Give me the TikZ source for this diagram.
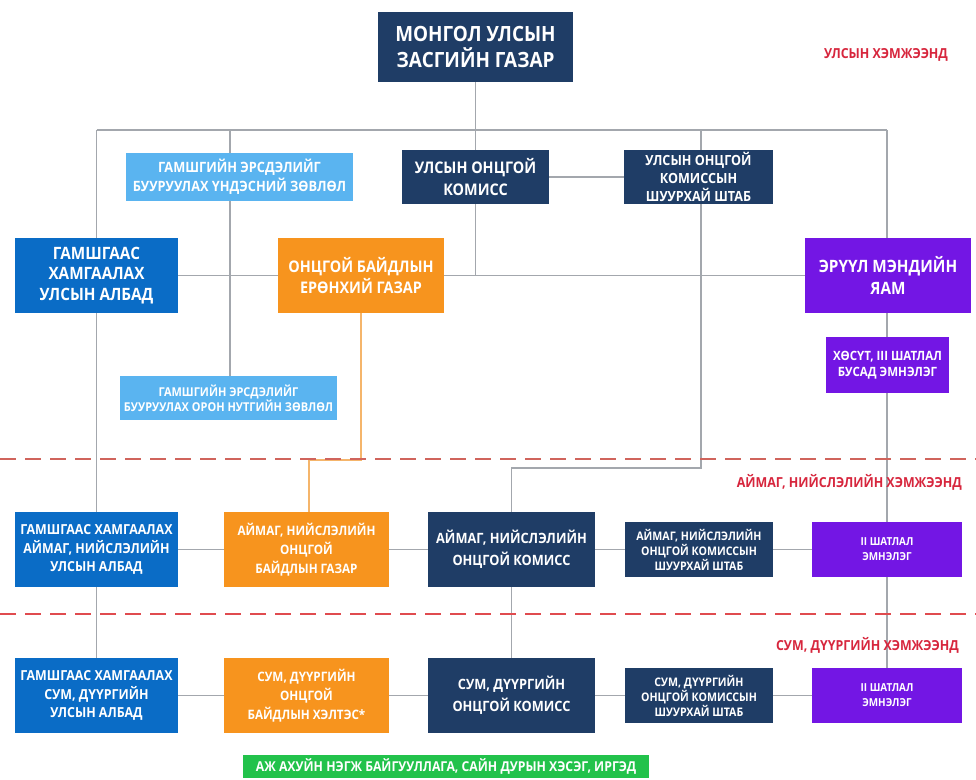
\documentclass[tikz,border=0pt]{standalone}
\usepackage{fontspec}
\newfontfamily\cond[FakeStretch=0.9]{Open Sans}
\usetikzlibrary{backgrounds}
\definecolor{navy}{HTML}{1F3D66}
\definecolor{mblue}{HTML}{0A6CC6}
\definecolor{lblue}{HTML}{5AB4F0}
\definecolor{orng}{HTML}{F7941E}
\definecolor{purp}{HTML}{7316E4}
\definecolor{grn}{HTML}{22C24B}
\definecolor{lgray}{HTML}{A3A7AD}
\definecolor{lorng}{HTML}{F5B56B}
\definecolor{redlbl}{HTML}{D7263D}
\definecolor{dash1}{HTML}{D0645C}
\definecolor{dash2}{HTML}{E04B4F}
\newcommand{\fs}[2]{\fontsize{#1}{#2}\selectfont}
\begin{document}
\begin{tikzpicture}[x=1pt,y=-1pt,
  orgbox/.style={inner sep=0pt, align=center, text=white, font=\cond\bfseries},
  conn/.style={draw=lgray, line width=1.3pt},
  lvl/.style={draw=#1, line width=2.6pt, dash pattern=on 16pt off 9pt},
  lbl/.style={text=redlbl, font=\cond\bfseries\fs{13.8}{16}, inner sep=0pt}]
\useasboundingbox (0,0) rectangle (976,779);
% national level
\node[orgbox, fill=navy, minimum width=195pt, minimum height=70pt, font=\cond\bfseries\fs{21}{26}] (top) at (475.5,47) {МОНГОЛ УЛСЫН\\ЗАСГИЙН ГАЗАР};
\node[lbl] (l1) at (886,55) {УЛСЫН ХЭМЖЭЭНД};
\node[orgbox, fill=lblue, minimum width=227pt, minimum height=48pt, font=\cond\bfseries\fs{14.2}{19}] (lb1) at (239.5,177) {ГАМШГИЙН ЭРСДЭЛИЙГ\\БУУРУУЛАХ ҮНДЭСНИЙ ЗӨВЛӨЛ};
\node[orgbox, fill=navy, minimum width=147pt, minimum height=54pt, font=\cond\bfseries\fs{16}{22}] (uok) at (475.5,177) {УЛСЫН ОНЦГОЙ\\КОМИСС};
\node[orgbox, fill=navy, minimum width=149pt, minimum height=54pt, font=\cond\bfseries\fs{14}{18}] (sh1) at (698.5,177) {УЛСЫН ОНЦГОЙ\\КОМИССЫН\\ШУУРХАЙ ШТАБ};
\node[orgbox, fill=mblue, minimum width=163pt, minimum height=75pt, font=\cond\bfseries\fs{17}{20.5}] (gam1) at (96.5,275.5) {ГАМШГААС\\ХАМГААЛАХ\\УЛСЫН АЛБАД};
\node[orgbox, fill=orng, minimum width=166pt, minimum height=75pt, font=\cond\bfseries\fs{16}{21}] (or1) at (361,275.5) {ОНЦГОЙ БАЙДЛЫН\\ЕРӨНХИЙ ГАЗАР};
\node[orgbox, fill=purp, minimum width=166pt, minimum height=75pt, font=\cond\bfseries\fs{17}{22}] (emya) at (888,275.5) {ЭРҮҮЛ МЭНДИЙН\\ЯАМ};
\node[orgbox, fill=purp, minimum width=123pt, minimum height=56pt, font=\cond\bfseries\fs{12.8}{16}] (hosut) at (887.5,365) {ХӨСҮТ, III ШАТЛАЛ\\БУСАД ЭМНЭЛЭГ};
\node[orgbox, fill=lblue, minimum width=217pt, minimum height=44pt, font=\cond\bfseries\fs{12.2}{15}] (lb2) at (228.5,398) {ГАМШГИЙН ЭРСДЭЛИЙГ\\БУУРУУЛАХ ОРОН НУТГИЙН ЗӨВЛӨЛ};
% aimag level
\node[lbl, anchor=east] (l2) at (962,482) {АЙМАГ, НИЙСЛЭЛИЙН ХЭМЖЭЭНД};
\node[orgbox, fill=mblue, minimum width=163pt, minimum height=75pt, font=\cond\bfseries\fs{13.8}{18.5}] (gam2) at (96.5,549.5) {ГАМШГААС ХАМГААЛАХ\\АЙМАГ, НИЙСЛЭЛИЙН\\УЛСЫН АЛБАД};
\node[orgbox, fill=orng, minimum width=165pt, minimum height=75pt, font=\cond\bfseries\fs{13}{19}] (or2) at (306.5,549.5) {АЙМАГ, НИЙСЛЭЛИЙН\\ОНЦГОЙ\\БАЙДЛЫН ГАЗАР};
\node[orgbox, fill=navy, minimum width=167pt, minimum height=75pt, font=\cond\bfseries\fs{14.2}{22}] (kom2) at (511.5,549.5) {АЙМАГ, НИЙСЛЭЛИЙН\\ОНЦГОЙ КОМИСС};
\node[orgbox, fill=navy, minimum width=148pt, minimum height=55pt, font=\cond\bfseries\fs{11.8}{15}] (sh2) at (699,549.5) {АЙМАГ, НИЙСЛЭЛИЙН\\ОНЦГОЙ КОМИССЫН\\ШУУРХАЙ ШТАБ};
\node[orgbox, fill=purp, minimum width=150pt, minimum height=55pt, font=\cond\bfseries\fs{11}{15}] (em2) at (887,549.5) {II ШАТЛАЛ\\ЭМНЭЛЭГ};
% sum level
\node[lbl, anchor=east] (l3) at (959,645) {СУМ, ДҮҮРГИЙН ХЭМЖЭЭНД};
\node[orgbox, fill=mblue, minimum width=163pt, minimum height=75pt, font=\cond\bfseries\fs{13.8}{18.5}] (gam3) at (96.5,695.5) {ГАМШГААС ХАМГААЛАХ\\СУМ, ДҮҮРГИЙН\\УЛСЫН АЛБАД};
\node[orgbox, fill=orng, minimum width=165pt, minimum height=75pt, font=\cond\bfseries\fs{13}{19}] (or3) at (306.5,695.5) {СУМ, ДҮҮРГИЙН\\ОНЦГОЙ\\БАЙДЛЫН ХЭЛТЭС*};
\node[orgbox, fill=navy, minimum width=167pt, minimum height=75pt, font=\cond\bfseries\fs{14.2}{22}] (kom3) at (511.5,695.5) {СУМ, ДҮҮРГИЙН\\ОНЦГОЙ КОМИСС};
\node[orgbox, fill=navy, minimum width=148pt, minimum height=55pt, font=\cond\bfseries\fs{11.8}{15}] (sh3) at (699,695.5) {СУМ, ДҮҮРГИЙН\\ОНЦГОЙ КОМИССЫН\\ШУУРХАЙ ШТАБ};
\node[orgbox, fill=purp, minimum width=150pt, minimum height=55pt, font=\cond\bfseries\fs{11}{15}] (em3) at (887,695.5) {II ШАТЛАЛ\\ЭМНЭЛЭГ};
\node[orgbox, fill=grn, minimum width=406pt, minimum height=23pt, font=\cond\bfseries\fs{13.6}{16}] (grn) at (446,766.5) {АЖ АХУЙН НЭГЖ БАЙГУУЛЛАГА, САЙН ДУРЫН ХЭСЭГ, ИРГЭД};
% coordinates
\coordinate (bL) at (96.5,130);
\coordinate (bA) at (230,130);
\coordinate (bS) at (701,130);
\coordinate (bR) at (887,130);
\coordinate (lb2t) at (230,376);
\coordinate (sA) at (701,468);
\coordinate (sB) at (511.5,468);
\coordinate (oA) at (361,460);
\coordinate (oB) at (309,460);
\coordinate (or2t) at (309,512);
\coordinate (em3t) at (887,668);
\coordinate (mid) at (475.5,275.5);
\begin{scope}[on background layer]
\fill[white] (0,0) rectangle (976,779);
\draw[conn] (bL) -- (bR);
\draw[conn] (top.south) -- (uok.north);
\draw[conn] (bL) -- (gam1.north);
\draw[conn] (gam1.south) -- (gam2.north);
\draw[conn] (gam2.south) -- (gam3.north);
\draw[conn] (bA) -- (lb2t);
\draw[conn] (uok.south) -- (mid);
\draw[conn] (uok.east) -- (sh1.west);
\draw[conn] (bS) -- (sA) -- (sB) -- (kom2.north);
\draw[conn] (bR) -- (em3t);
\draw[conn] (gam1.east) -- (or1.west);
\draw[conn] (or1.east) -- (emya.west);
\draw[draw=lorng, line width=1.1pt] (or1.south -| oA) -- (oA) -- (oB) -- (or2t);
\draw[conn] (gam2.east) -- (or2.west);
\draw[conn] (or2.east) -- (kom2.west);
\draw[conn] (kom2.east) -- (sh2.west);
\draw[conn] (sh2.east) -- (em2.west);
\draw[conn] (kom2.south) -- (kom3.north);
\draw[conn] (gam3.east) -- (or3.west);
\draw[conn] (or3.east) -- (kom3.west);
\draw[conn] (kom3.east) -- (sh3.west);
\draw[conn] (sh3.east) -- (em3.west);
\end{scope}
\coordinate (d1a) at (0,459);
\coordinate (d1b) at (976,459);
\coordinate (d2a) at (0,614);
\coordinate (d2b) at (976,614);
\draw[lvl=dash1] (d1a) -- (d1b);
\draw[lvl=dash2] (d2a) -- (d2b);
\end{tikzpicture}
\end{document}
